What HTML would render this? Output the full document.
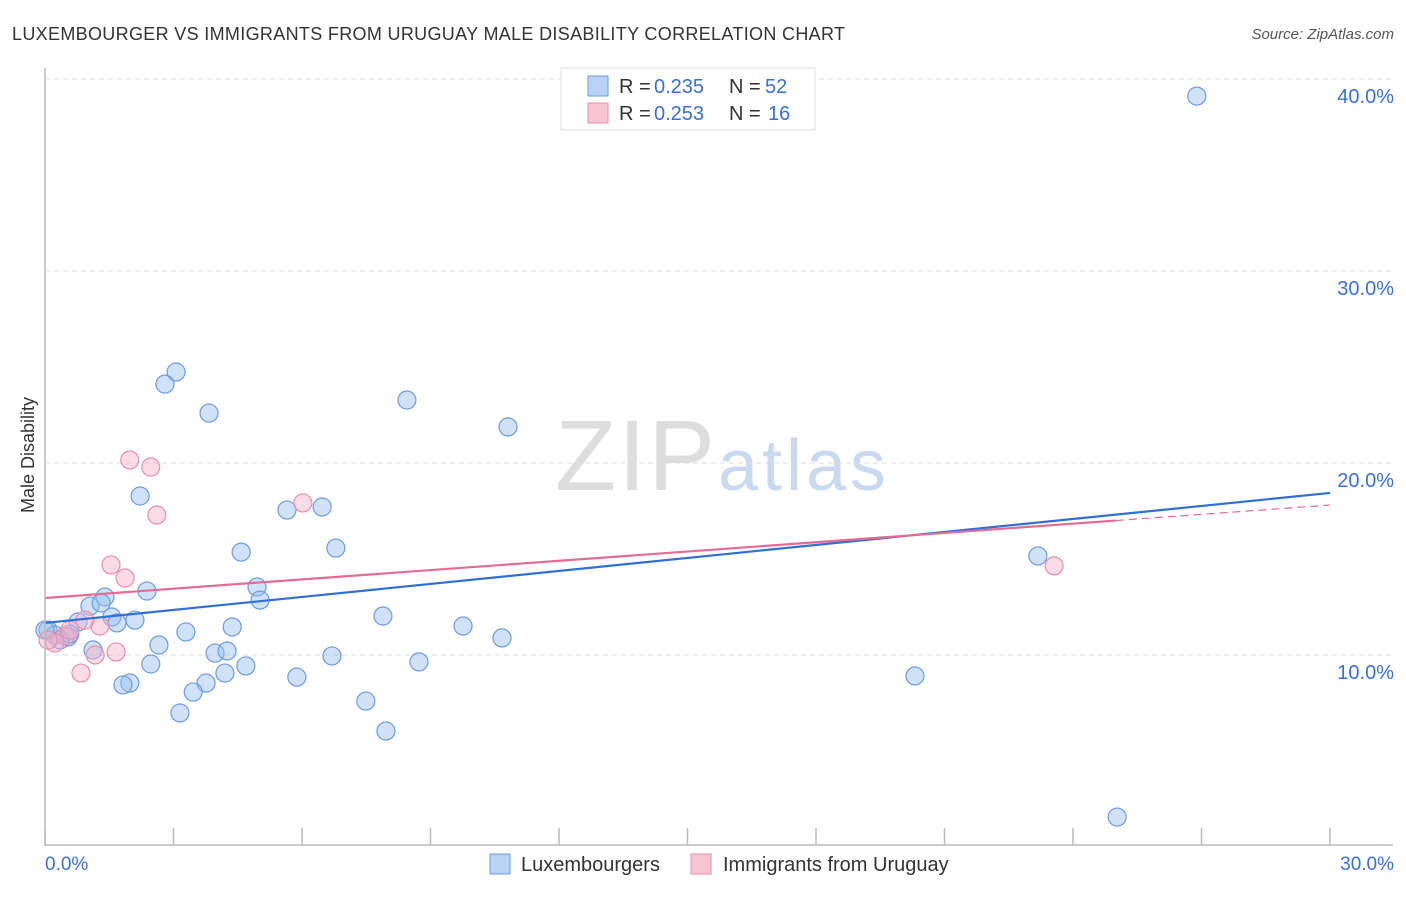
<!DOCTYPE html>
<html><head><meta charset="utf-8"><style>
body{margin:0;background:#fff;font-family:"Liberation Sans",sans-serif}
svg text{font-family:"Liberation Sans",sans-serif}
</style></head><body>
<svg id="chart" width="1406" height="892">
<text x="12" y="40" font-size="18" fill="#333" textLength="833">LUXEMBOURGER VS IMMIGRANTS FROM URUGUAY MALE DISABILITY CORRELATION CHART</text>
<text x="1394" y="39" font-size="15" fill="#555" font-style="italic" text-anchor="end">Source: ZipAtlas.com</text>
<text x="555" y="490" font-size="100" fill="#ddd" textLength="160" font-family="Liberation Serif">ZIP</text>
<text x="718" y="490" font-size="72" fill="#c9d9f0" textLength="168">atlas</text>
<text transform="translate(34,455) rotate(-90)" font-size="18" fill="#333" text-anchor="middle">Male Disability</text>
<g id="grid"></g><g id="ticks"></g><g id="marks"></g>
<line x1="45" y1="68" x2="45" y2="846" stroke="#bbb" stroke-width="1.5"/>
<line x1="45" y1="845" x2="1393" y2="845" stroke="#bbb" stroke-width="1.5"/>
<text x="45" y="870" font-size="19" fill="#3a6fd8">0.0%</text>
<text x="1394" y="870" font-size="19" fill="#3a6fd8" text-anchor="end">30.0%</text>
<g>
<rect x="561" y="68" width="254" height="62" fill="#fff" stroke="#ddd"/>
<rect x="588" y="76" width="20" height="20" fill="#b9d3f5" stroke="#6d9be0"/>
<rect x="588" y="103" width="20" height="20" fill="#f8c5d5" stroke="#e88fab"/>
<text x="619" y="93" font-size="20" fill="#333">R =</text>
<text x="654" y="93" font-size="20" fill="#3a6fd8">0.235</text>
<text x="729" y="93" font-size="20" fill="#333">N =</text>
<text x="765" y="93" font-size="20" fill="#3a6fd8">52</text>
<text x="619" y="120" font-size="20" fill="#333">R =</text>
<text x="654" y="120" font-size="20" fill="#3a6fd8">0.253</text>
<text x="729" y="120" font-size="20" fill="#333">N =</text>
<text x="768" y="120" font-size="20" fill="#3a6fd8">16</text>
</g>
<g>
<rect x="490" y="854" width="20" height="20" fill="#b9d3f5" stroke="#6d9be0"/>
<text x="521" y="871" font-size="20" fill="#333">Luxembourgers</text>
<rect x="691" y="854" width="20" height="20" fill="#f8c5d5" stroke="#e88fab"/>
<text x="723" y="871" font-size="20" fill="#333">Immigrants from Uruguay</text>
</g>
</svg>
<script>
const yTicks=[10,20,30,40];
const yTickLabels=["10.0%","20.0%","30.0%","40.0%"];
const xTickVals=[0,3,6,9,12,15,18,21,24,27,30];
const blueX=[26.89,3.06,2.80,3.83,8.45,10.81,2.22,5.65,6.47,6.79,4.58,23.18,2.38,4.95,5.02,1.40,1.05,1.31,0.77,1.56,2.10,1.68,7.89,9.76,4.37,3.29,10.67,2.66,0.07,0.23,0.54,0.58,1.12,3.97,4.25,6.70,8.73,2.47,4.69,5.88,20.31,1.98,1.82,3.76,3.46,4.20,7.49,3.15,7.96,25.03,0.0,0.35];
const blueY=[39.11,24.74,24.11,22.60,23.28,21.88,18.28,17.55,17.71,15.57,15.36,15.16,13.33,13.54,12.86,13.02,12.55,12.71,11.72,11.98,11.82,11.67,12.03,11.51,11.46,11.20,10.89,10.52,11.30,11.04,10.94,11.09,10.26,10.10,10.21,9.95,9.64,9.53,9.43,8.85,8.91,8.54,8.44,8.54,8.07,9.06,7.60,6.98,6.04,1.56,11.30,10.78];
const pinkX=[1.98,2.47,2.61,6.02,1.54,1.87,23.56,1.28,0.93,0.47,0.23,0.07,1.17,1.66,0.84,0.58];
const pinkY=[20.16,19.79,17.29,17.92,14.69,14.01,14.64,11.51,11.82,10.99,10.63,10.78,10.00,10.16,9.06,11.30];
const blueTrend=[11.67,18.44];
const pinkTrend=[12.97,17.81];
const pinkSolidEnd=25.0;
const X=v=>45+v/30*1285, Y=v=>847-v*19.2;
const NS="http://www.w3.org/2000/svg";
function mk(tag,attrs,parent){const e=document.createElementNS(NS,tag);for(const k in attrs)e.setAttribute(k,attrs[k]);document.getElementById(parent).appendChild(e);return e;}
yTicks.forEach((t,i)=>{
  const l=mk('line',{x1:45,x2:1393,y1:Y(t),y2:Y(t),stroke:'#ddd','stroke-dasharray':'5,4'},'grid');
  
  
  const tx=mk('text',{x:1394,y:Y(t)+24,'font-size':20,fill:'#3a6fd8','text-anchor':'end'},'grid');
  tx.textContent=yTickLabels[i];
  
  
});
xTickVals.forEach(t=>{
  const l=mk('line',{x1:X(t),x2:X(t),y1:828,y2:845,stroke:'#bbb','stroke-width':1.5},'ticks');
  
  
});
blueX.forEach((x,i)=>{
  const c=mk('circle',{cx:X(x),cy:Y(blueY[i]),r:9,fill:'rgba(150,190,240,0.45)',stroke:'#6d9be0','stroke-width':1.2},'marks');
  
  
});
pinkX.forEach((x,i)=>{
  const c=mk('circle',{cx:X(x),cy:Y(pinkY[i]),r:9,fill:'rgba(245,175,200,0.45)',stroke:'#e88fab','stroke-width':1.2},'marks');
  
  
});
const bl=mk('line',{x1:X(0),y1:Y(blueTrend[0]),x2:X(30),y2:Y(blueTrend[1]),stroke:'#2f6fd6','stroke-width':2.2},'marks');


const pAt=x=>pinkTrend[0]+(pinkTrend[1]-pinkTrend[0])*x/30;
const pl=mk('line',{x1:X(0),y1:Y(pAt(0)),x2:X(pinkSolidEnd),y2:Y(pAt(pinkSolidEnd)),stroke:'#e36b96','stroke-width':2.2},'marks');


const pd=mk('line',{x1:X(pinkSolidEnd),y1:Y(pAt(pinkSolidEnd)),x2:X(30),y2:Y(pAt(30)),stroke:'#e36b96','stroke-width':1.2,'stroke-dasharray':'8,5'},'marks');


</script>
</body></html>
